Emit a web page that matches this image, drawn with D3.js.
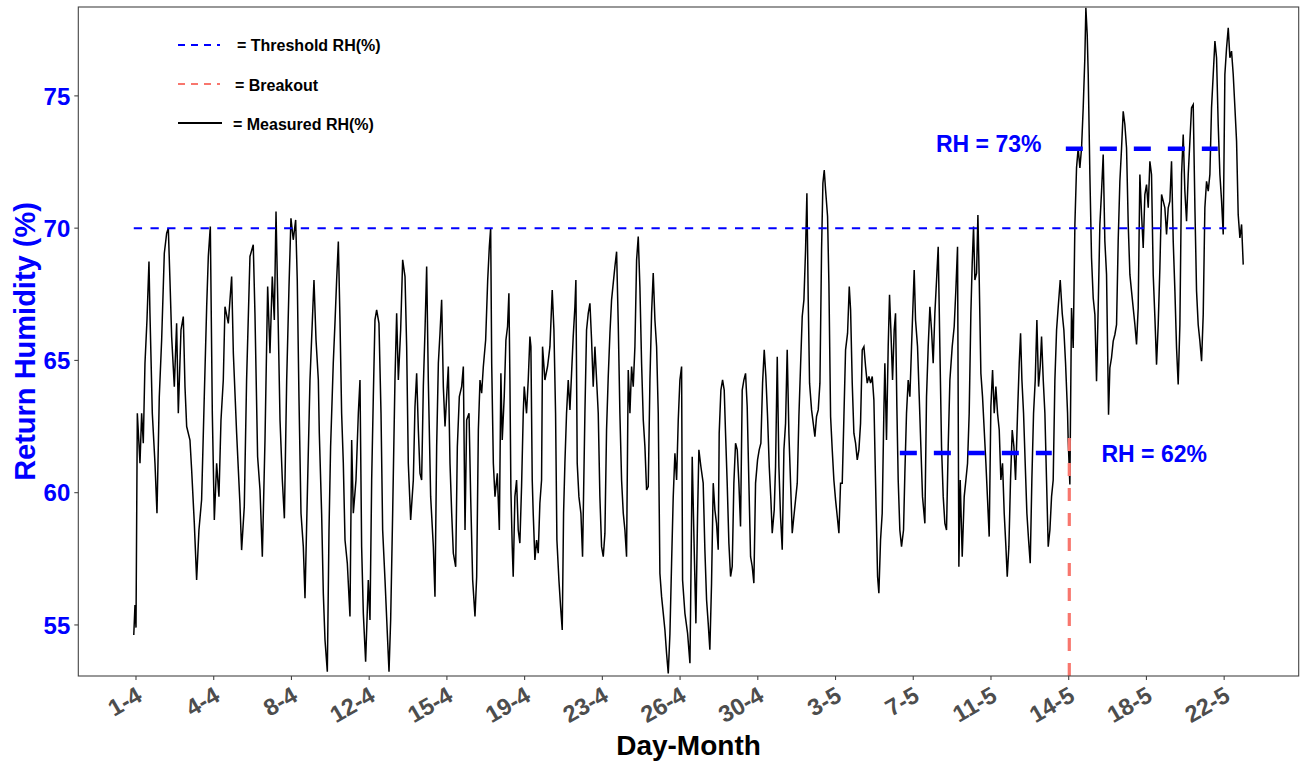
<!DOCTYPE html>
<html>
<head>
<meta charset="utf-8">
<script src="https://cdn.jsdelivr.net/npm/d3@7"></script>
<style>
  html, body { margin: 0; padding: 0; background: #ffffff; }
  svg { display: block; font-family: "Liberation Sans", Arial, sans-serif; }
</style>
</head>
<body>
<svg id="chart" width="1304" height="763"></svg>
<script>
// ---------- DATA ----------
// time in hours since 1 April 00:00, measured return humidity (%)
const hours = [
0,1.35,2.5,4.0,7.0,8.85,10.7,12.6,14.85,17.1,18.2,20.85,23.85,26.1,28.7,31.35,34.35,37.0,38.85,40.7,42.6,45.6,48.2,50.1,53.1,55.7,57.6,59.5,63.2,65.1,68.1,70.7,73.3,76.3,79.3,82.0,83.85,86.1,88.35,90.6,93.2,95.8,98.1,100.7,102.6,106.35,110.1,112.0,115.7,119.4,121.3,124.3,126.9,130.7,134.4,136.3,139.3,142.0,144.6,147.6,150.6,153.2,155.8,158.1,160.0,162.6,164.5,167.1,169.4,172.0,174.6,176.8,179.4,182.1,183.9,185.8,188.1,190.7,192.6,195.6,198.2,
202.7,205.0,207.6,208.7,211.3,213.2,215.1,217.7,219.6,221.4,224.4,226.3,228.2,230.1,231.95,233.8,235.7,237.6,240.2,243.2,245.1,246.95,249.95,252.6,254.45,256.3,258.2,260.8,263.8,265.7,267.6,269.45,271.3,273.2,275.8,278.1,279.95,282.6,285.2,287.1,288.95,291.2,293.8,295.7,297.6,300.2,302.45,305.1,306.95,308.8,311.45,314.45,316.3,318.2,320.1,321.95,323.8,325.7,327.6,329.45,331.3,333.95,336.95,338.8,340.7,342.6,344.45,346.3,348.2,350.1,351.95,353.8,355.7,357.6,359.45,362.1,363.95,366.2,368.8,370.7,372.6,374.45,377.1,378.95,381.2,383.8,385.7,387.6,389.45,391.3,393.2,395.8,398.1,399.95,401.45,402.6,404.45,406.3,408.95,411.2,
412.95,414.45,416.7,418.6,420.45,421.95,423.1,424.2,425.7,426.8,428.7,430.6,432.45,434.3,436.2,438.1,439.2,441.8,443.7,445.6,446.7,448.2,449.3,451.2,453.1,454.95,456.8,458.7,459.8,462.45,465.45,468.1,470.7,472.6,474.45,475.95,478.2,480.1,481.95,483.45,484.95,486.8,488.7,490.6,492.45,494.3,496.2,497.3,498.8,500.7,502.95,504.8,507.45,509.3,511.2,513.1,514.95,516.8,518.7,520.6,522.45,524.3,526.2,528.1,529.95,531.8,533.7,535.6,537.45,541.2,543.1,544.95,546.8,548.7,550.6,552.45,554.3,556.2,558.1,559.95,561.8,563.7,565.6,567.45,569.3,571.2,573.1,574.95,576.8,578.7,580.6,582.45,584.3,586.2,588.1,589.95,591.8,593.7,595.6,597.45,599.3,601.2,603.1,604.95,606.8,608.7,610.6,612.45,614.3,616.2,617.3,619.95,622.95,625.6,
626.3,628.15,630.4,632.3,634.15,635.65,637.9,640.5,642.4,644.3,646.15,648.0,649.9,651.8,653.65,655.5,657.4,658.5,660.4,662.3,664.15,665.65,667.5,669.4,671.3,673.15,675.0,676.9,678.8,680.65,682.5,684.4,686.3,688.15,690.0,691.9,693.8,695.65,697.5,699.4,701.65,703.5,705.4,707.3,709.15,711.0,712.9,714.8,716.65,718.15,720.4,721.9,723.8,725.65,727.5,729.4,731.3,733.15,735.0,736.9,738.8,740.65,742.5,744.4,746.3,748.15,750.0,751.9,753.8,755.65,757.15,758.65,760.15,762.4,764.3,766.15,768.0,769.9,771.8,773.65,775.15,776.65,778.15,780.4,781.9,783.8,785.65,787.5,789.4,791.3,793.15,795.0,796.9,798.8,800.65,802.9,804.8,806.3,808.15,810.0,811.9,813.8,815.65,817.5,819.4,821.3,823.15,825.0,826.9,828.8,830.65,832.5,834.4,836.65,
838.1,840.0,841.85,843.7,844.85,846.7,848.6,850.1,851.6,853.5,855.35,856.85,858.35,859.85,861.7,863.6,865.85,867.35,869.2,871.1,873.0,874.85,876.7,877.85,879.35,881.6,883.5,885.35,887.2,889.85,891.7,893.6,895.5,897.35,899.2,901.1,903.0,904.85,906.7,908.6,910.5,912.35,914.2,916.1,918.0,920.6,922.85,924.7,926.6,928.1,929.6,931.85,934.1,936.0,937.85,939.7,941.6,943.1,944.6,946.1,948.0,949.5,951.0,952.85,954.7,956.6,958.5,960.35,962.2,964.1,966.0,967.85,969.7,971.6,973.5,975.35,977.2,979.1,981.0,982.5,984.35,986.2,988.1,990.0,991.85,994.1,996.0,997.5,999.0,1000.85,1002.7,1004.6,1006.5,1008.35,1010.2,1012.1,1014.0,1015.85,1017.7,1019.6,1021.1,1023.0,1024.85,1026.7,1028.6,1030.5,1032.35,1034.2,1036.1,1038.0,1039.85,1042.1,1044.35,1046.2,1048.1,1050.35,
1051.1,1052.95,1054.8,1056.7,1058.6,1060.45,1062.3,1064.2,1066.1,1067.95,1069.8,1070.95,1072.45,1073.6,1075.45,1077.3,1079.2,1081.1,1082.95,1084.8,1086.7,1088.6,1090.45,1092.3,1094.2,1096.45,1097.95,1099.8,1101.7,1103.6,1105.45,1107.3,1109.2,1111.1,1112.95,1114.8,1116.7,1118.6,1120.45,1122.3,1124.2,1126.1,1127.95,1129.8,1131.7,1133.6,1135.45,1137.3,1139.2,1141.1,1142.95,1144.8,1146.7,1148.6,1150.45,1152.3,1154.2,1156.1,1157.95,1159.8,1161.7,1163.6,1165.45,1167.3,1169.2,1171.1,1172.95,1174.8,1176.7,1178.6,1180.45,1182.3,1184.2,1186.1,1187.95,1189.8,1191.7,1193.6,1195.45,1197.3,1199.2,1201.1,1202.95,1204.8,1206.7,1208.6,1210.45,1212.3,1214.2,1216.1,1217.95,1219.8,1221.7,1223.6,1225.45,1227.3,1229.2,1231.1,1232.95,1234.8,1236.7,1238.6,1240.45,1242.3,1244.2,1246.1,1247.95
];
const rh = [
54.62,55.75,54.9,63.0,61.11,63.0,61.87,64.89,66.53,68.74,66.78,63.0,61.11,59.22,63.63,65.77,69.05,69.81,70.0,68.04,65.9,64.01,66.4,63.0,66.15,66.66,64.01,62.5,61.99,60.86,58.84,56.7,58.59,59.73,63.63,67.03,68.93,70.06,63.0,58.97,61.11,59.85,62.75,64.26,67.03,66.4,68.17,65.27,62.25,59.6,57.83,59.47,64.26,68.93,69.37,66.78,61.36,60.1,57.58,61.99,67.79,65.27,68.17,66.53,70.63,66.15,62.75,60.48,59.03,64.26,67.79,70.37,69.56,70.31,68.04,63.63,59.22,57.96,56.01,60.48,64.26,
68.04,65.77,64.26,62.25,59.22,56.2,54.43,53.23,58.59,61.74,64.89,66.4,68.04,69.49,66.53,63.0,61.11,58.21,57.33,55.32,61.99,59.22,60.48,63.0,64.26,57.96,55.44,53.61,56.7,55.19,60.48,63.63,66.53,66.91,66.4,63.0,58.59,56.7,54.68,53.23,55.19,59.22,64.26,66.78,64.26,66.15,68.8,68.17,65.52,61.11,58.97,60.48,63.25,64.51,62.37,60.73,60.48,64.01,66.15,68.55,64.26,59.85,57.96,56.07,61.74,64.89,66.03,67.29,64.01,62.5,63.63,64.77,61.11,59.22,57.71,57.2,61.74,63.63,64.01,64.77,58.59,62.75,63.0,59.85,56.7,55.32,56.82,62.37,64.26,63.76,64.77,65.77,68.04,69.3,70.0,64.89,61.11,59.85,60.73,58.59,
64.51,61.99,63.63,65.77,66.28,67.54,64.26,60.1,57.96,56.82,59.85,60.48,58.59,58.09,60.23,63.0,64.01,63.0,64.26,65.9,65.52,60.48,59.22,57.46,58.21,57.71,59.6,60.48,65.52,64.26,64.77,65.52,67.66,66.15,63.0,58.21,56.7,55.69,54.81,59.22,61.11,63.0,64.26,63.13,64.51,65.9,67.03,68.04,61.11,59.85,59.22,57.58,63.0,66.15,66.78,67.16,65.77,64.01,65.52,64.26,63.0,59.85,57.96,57.58,58.46,62.37,64.39,66.03,67.29,68.55,69.11,66.4,63.0,60.48,59.22,58.59,57.58,64.64,63.0,64.77,64.01,65.52,68.8,69.68,67.79,64.89,62.75,61.74,60.1,60.23,64.26,66.78,68.3,66.53,65.52,63.0,56.95,56.07,55.44,54.81,53.93,53.17,54.68,57.33,59.85,61.49,60.48,62.75,64.26,64.77,56.7,55.44,54.68,53.55,
55.57,61.36,57.84,55.06,59.1,61.62,60.99,60.36,57.84,55.95,55.06,54.06,56.58,60.36,59.35,58.84,57.84,62.25,63.88,64.26,63.88,62.25,60.36,58.09,56.83,57.21,60.36,61.87,61.62,60.36,58.72,63.88,64.26,64.51,63.26,60.36,57.58,57.21,56.58,60.36,61.24,61.62,61.87,64.14,65.4,64.39,62.88,60.99,59.73,58.47,59.35,60.99,65.14,60.99,59.1,57.84,61.62,62.62,65.4,62.25,60.36,58.47,59.1,59.73,60.36,62.88,64.77,66.66,67.29,69.18,71.32,67.29,64.14,63.13,62.62,62.12,62.88,63.13,64.14,69.18,71.7,72.2,71.45,70.44,67.92,62.88,61.62,60.48,59.73,59.1,58.47,60.36,60.36,62.88,65.4,66.03,67.79,66.91,64.14,62.25,61.87,61.24,61.62,62.62,65.4,65.52,64.77,64.14,64.39,64.14,64.39,63.51,60.36,56.83,
56.2,58.21,59.22,63.0,64.89,61.99,65.52,67.48,66.15,64.26,66.15,66.78,63.25,60.48,58.59,57.96,58.59,60.73,63.0,64.26,63.63,65.52,67.29,68.42,66.53,65.52,63.63,61.74,59.85,58.84,63.63,65.52,67.03,66.15,64.89,66.78,68.04,69.3,65.52,61.74,59.85,58.84,58.59,61.74,64.26,65.52,66.28,67.66,69.3,57.2,60.48,57.58,59.85,60.48,61.11,63.0,66.78,68.67,70.06,68.04,68.3,70.5,68.04,64.51,63.63,62.37,61.11,59.73,58.34,63.25,64.64,63.0,64.01,63.0,62.37,60.48,61.11,59.22,57.96,56.82,57.96,60.48,62.37,61.74,60.48,63.0,64.89,66.03,64.26,63.0,61.11,59.22,58.21,57.33,60.48,63.0,64.26,66.53,64.01,64.77,65.9,64.26,63.0,60.48,57.96,58.59,59.85,60.48,64.26,66.15,67.03,68.04,66.78,66.15,64.89,63.0,
61.94,60.31,66.98,65.47,70.14,72.28,73.03,72.28,73.03,74.55,76.44,78.33,77.32,75.81,72.03,68.88,67.36,66.73,64.21,66.98,70.14,71.4,72.78,69.51,68.25,62.95,64.72,65.1,65.73,65.98,66.35,69.51,71.77,73.03,74.42,73.92,73.03,70.14,68.25,67.62,66.98,66.35,65.6,66.98,72.03,70.51,69.25,71.27,71.65,70.77,72.53,72.03,68.25,66.61,64.84,66.35,68.5,71.27,71.02,70.77,69.76,70.77,71.02,72.53,69.51,67.62,65.47,64.09,66.35,72.03,73.54,71.4,70.26,72.03,73.29,74.55,74.67,70.77,67.62,66.35,65.73,64.97,66.73,70.77,71.77,71.4,72.03,74.55,75.81,77.07,76.44,73.92,72.03,71.02,69.76,75.81,76.81,77.57,76.44,76.69,75.81,74.55,73.29,70.51,69.63,70.14,68.62
];

const tickLabels = ["1-4","4-4","8-4","12-4","15-4","19-4","23-4","26-4","30-4","3-5","7-5","11-5","14-5","18-5","22-5"];
const tickStartHour = 2.5;
const tickStepHour = 24 * 51 / 14;
const yTickValues = [55, 60, 65, 70, 75];

const thresholdValue = 70;
const thresholdSpan = [0, 1229];
const levelNames = ["RH = 62%", "RH = 73%"];
const levelValues = [61.5, 73];
const levelSpans = [[861.7, 1032.6], [1048.4, 1219.3]];
const breakoutHour = 1052.3;
const breakoutTop = 62.2;

const legendLabels = ["= Threshold RH(%)", "= Breakout", "= Measured RH(%)"];
const xTitle = "Day-Month";
const yTitle = "Return Humidity (%)";

// ---------- CHART ----------
const svg = d3.select("#chart");
const P = { left: 78.3, right: 1298.7, top: 7, bottom: 676 };

const span = d3.max(hours) - d3.min(hours);
const x = d3.scaleLinear()
  .domain([d3.min(hours) - 0.05 * span, d3.max(hours) + 0.05 * span])
  .range([P.left, P.right]);
const y = d3.scaleLinear().domain([53.07, 78.36]).range([P.bottom, P.top]);

const BLUE = "#0000FF", RED = "#F8766D", GREY = "#4D4D4D";
const FONT = "'Liberation Sans', Arial, sans-serif";

svg.append("defs").append("clipPath").attr("id", "clip")
  .append("rect").attr("x", P.left).attr("y", P.top)
  .attr("width", P.right - P.left).attr("height", P.bottom - P.top);

const plot = svg.append("g").attr("clip-path", "url(#clip)");

// measured line
const series = hours.map((h, i) => [h, rh[i]]);
plot.append("path")
  .datum(series)
  .attr("fill", "none")
  .attr("stroke", "#000")
  .attr("stroke-width", 1.5)
  .attr("stroke-linejoin", "miter")
  .attr("d", d3.line().x(d => x(d[0])).y(d => y(d[1])));

// threshold
plot.append("line")
  .attr("x1", x(thresholdSpan[0])).attr("x2", x(thresholdSpan[1]))
  .attr("y1", y(thresholdValue)).attr("y2", y(thresholdValue))
  .attr("stroke", BLUE).attr("stroke-width", 2)
  .attr("stroke-dasharray", "8.3,8.4");

// level segments
levelValues.forEach((v, i) => {
  plot.append("line")
    .attr("x1", x(levelSpans[i][0])).attr("x2", x(levelSpans[i][1]))
    .attr("y1", y(v)).attr("y2", y(v))
    .attr("stroke", BLUE).attr("stroke-width", 4.5)
    .attr("stroke-dasharray", "17,17");
});

// breakout
plot.append("line")
  .attr("x1", x(breakoutHour)).attr("x2", x(breakoutHour))
  .attr("y1", P.bottom).attr("y2", y(breakoutTop))
  .attr("stroke", RED).attr("stroke-width", 3.2)
  .attr("stroke-dasharray", "13,12");

// level labels
svg.append("text")
  .attr("x", x(1021)).attr("y", y(levelValues[1]) + 3)
  .attr("text-anchor", "end")
  .attr("font-family", FONT).attr("font-weight", "bold")
  .attr("font-size", 23).attr("fill", BLUE)
  .text(levelNames[1]);
svg.append("text")
  .attr("x", x(1088.5)).attr("y", y(levelValues[0]) + 9)
  .attr("text-anchor", "start")
  .attr("font-family", FONT).attr("font-weight", "bold")
  .attr("font-size", 23).attr("fill", BLUE)
  .text(levelNames[0]);

// panel border
svg.append("rect")
  .attr("x", P.left).attr("y", P.top)
  .attr("width", P.right - P.left).attr("height", P.bottom - P.top)
  .attr("fill", "none").attr("stroke", "#444").attr("stroke-width", 1.1);

// y axis
const yAx = svg.append("g");
yTickValues.forEach(v => {
  yAx.append("line").attr("x1", P.left - 4).attr("x2", P.left)
    .attr("y1", y(v)).attr("y2", y(v))
    .attr("stroke", "#444").attr("stroke-width", 1.1);
  yAx.append("text").attr("x", P.left - 8).attr("y", y(v))
    .attr("dy", "0.36em").attr("text-anchor", "end")
    .attr("font-family", FONT).attr("font-weight", "bold")
    .attr("font-size", 24).attr("fill", BLUE)
    .text(v);
});

// x axis
const xAx = svg.append("g");
tickLabels.forEach((lab, i) => {
  const tx = x(tickStartHour + i * tickStepHour);
  xAx.append("line").attr("x1", tx).attr("x2", tx)
    .attr("y1", P.bottom).attr("y2", P.bottom + 4)
    .attr("stroke", "#444").attr("stroke-width", 1.1);
  xAx.append("text")
    .attr("transform", `translate(${tx + 7.5},${P.bottom + 24}) rotate(-30)`)
    .attr("text-anchor", "end")
    .attr("font-family", FONT).attr("font-weight", "bold")
    .attr("font-size", 23.5).attr("fill", GREY)
    .text(lab);
});

// axis titles
svg.append("text")
  .attr("x", (P.left + P.right) / 2).attr("y", 755)
  .attr("text-anchor", "middle")
  .attr("font-family", FONT).attr("font-weight", "bold")
  .attr("font-size", 28).attr("fill", "#000")
  .text(xTitle);
svg.append("text")
  .attr("transform", `translate(35,${(P.top + P.bottom) / 2}) rotate(-90)`)
  .attr("text-anchor", "middle")
  .attr("font-family", FONT).attr("font-weight", "bold")
  .attr("font-size", 29).attr("fill", BLUE)
  .text(yTitle);

// legend
const legendStyles = [
  { stroke: BLUE, dash: "7,6", x2: 220, ty: 50.5, tx: 237, ly: 45 },
  { stroke: RED, dash: "7,6", x2: 220, ty: 90.5, tx: 235, ly: 84 },
  { stroke: "#000", dash: null, x2: 222, ty: 130, tx: 233, ly: 123 }
];
legendLabels.forEach((lab, i) => {
  const s = legendStyles[i];
  svg.append("line").attr("x1", 178).attr("x2", s.x2)
    .attr("y1", s.ly).attr("y2", s.ly)
    .attr("stroke", s.stroke).attr("stroke-width", 2.2)
    .attr("stroke-dasharray", s.dash);
  svg.append("text").attr("x", s.tx).attr("y", s.ty)
    .attr("font-family", FONT).attr("font-weight", "bold")
    .attr("font-size", 16).attr("fill", "#000")
    .text(lab);
});
</script>
</body>
</html>
